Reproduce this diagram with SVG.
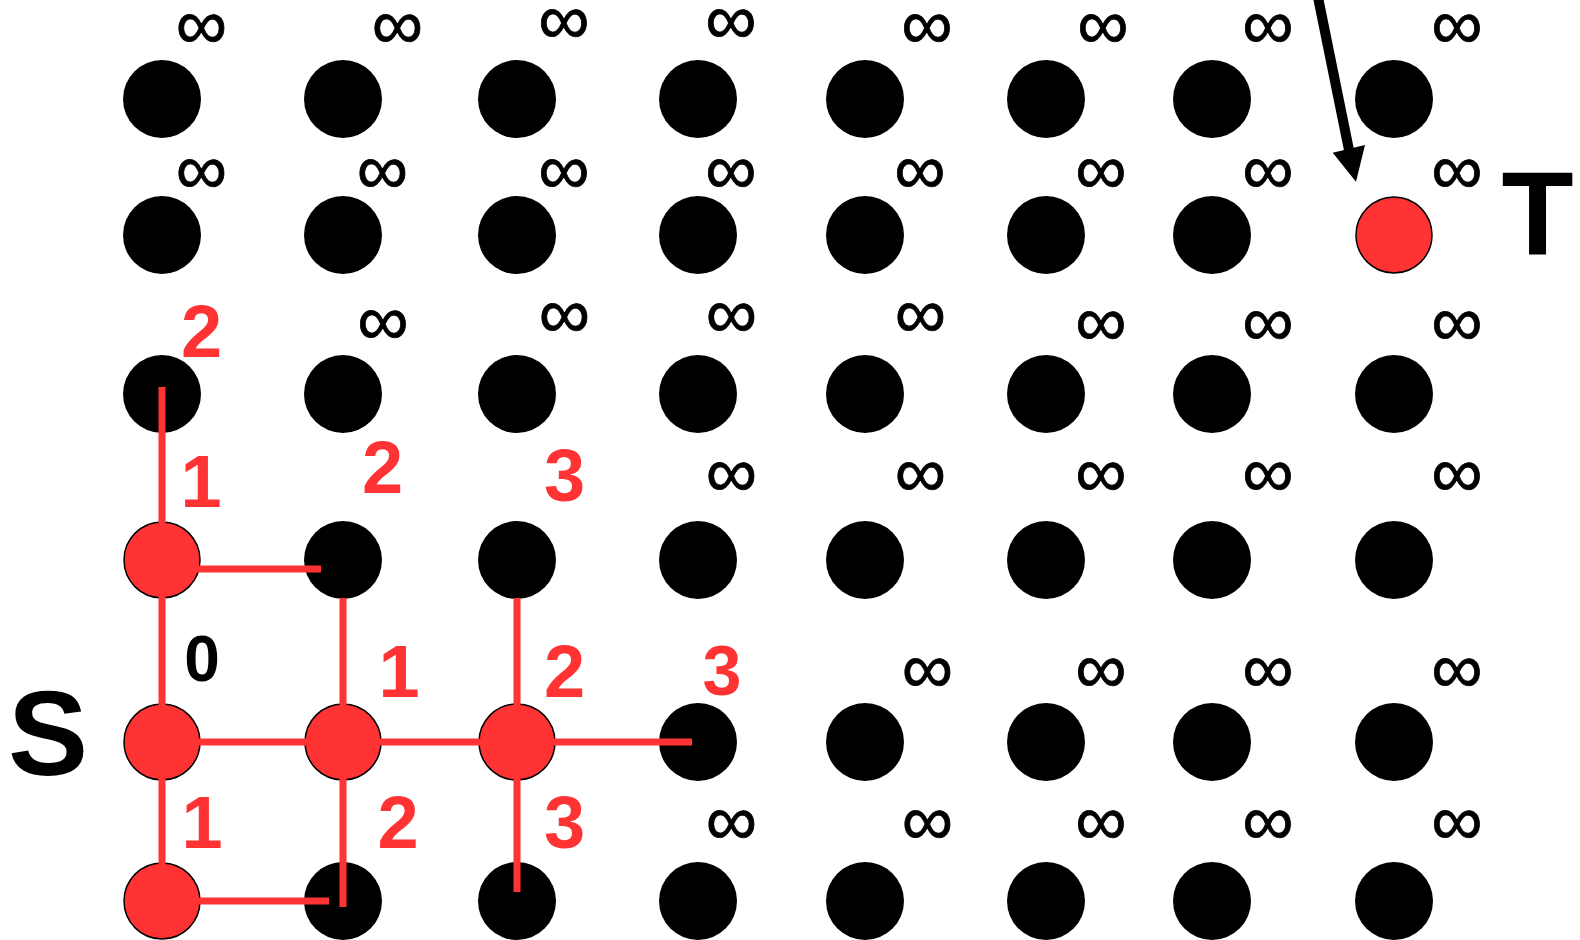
<svg xmlns="http://www.w3.org/2000/svg" width="1580" height="940" viewBox="0 0 1580 940">
<style>
.n{fill:#000}
.r{fill:#ff3333;stroke:#000;stroke-width:1.5}
.inf{font-family:"Liberation Sans",Arial,sans-serif;font-weight:normal;font-size:72px;fill:#000;text-anchor:middle;stroke:#000;stroke-width:0.8}
.d{font-family:"Liberation Sans",Arial,sans-serif;font-weight:bold;font-size:74px;fill:#ff3333;text-anchor:middle}
.k{font-family:"Liberation Sans",Arial,sans-serif;font-weight:bold;fill:#000;text-anchor:middle}
.e{stroke:#ff3333;stroke-width:7;fill:none}
</style>
<rect width="1580" height="940" fill="#fff"/>
<g id="nodes">
<g id="r1">
<circle class="n" cx="162" cy="99" r="39"/><circle class="n" cx="343" cy="99" r="39"/><circle class="n" cx="517" cy="99" r="39"/><circle class="n" cx="698" cy="99" r="39"/><circle class="n" cx="865" cy="99" r="39"/><circle class="n" cx="1046" cy="99" r="39"/><circle class="n" cx="1212" cy="99" r="39"/><circle class="n" cx="1394" cy="99" r="39"/>
</g>
<g id="r2">
<circle class="n" cx="162" cy="235" r="39"/><circle class="n" cx="343" cy="235" r="39"/><circle class="n" cx="517" cy="235" r="39"/><circle class="n" cx="698" cy="235" r="39"/><circle class="n" cx="865" cy="235" r="39"/><circle class="n" cx="1046" cy="235" r="39"/><circle class="n" cx="1212" cy="235" r="39"/>
</g>
<g id="target"><circle class="r" cx="1394" cy="235" r="38"/></g>
<g id="r3">
<circle class="n" cx="162" cy="394" r="39"/><circle class="n" cx="343" cy="394" r="39"/><circle class="n" cx="517" cy="394" r="39"/><circle class="n" cx="698" cy="394" r="39"/><circle class="n" cx="865" cy="394" r="39"/><circle class="n" cx="1046" cy="394" r="39"/><circle class="n" cx="1212" cy="394" r="39"/><circle class="n" cx="1394" cy="394" r="39"/>
</g>
<g id="r4">
<circle class="r" cx="162" cy="560" r="38"/><circle class="n" cx="343" cy="560" r="39"/><circle class="n" cx="517" cy="560" r="39"/><circle class="n" cx="698" cy="560" r="39"/><circle class="n" cx="865" cy="560" r="39"/><circle class="n" cx="1046" cy="560" r="39"/><circle class="n" cx="1212" cy="560" r="39"/><circle class="n" cx="1394" cy="560" r="39"/>
</g>
<g id="r5">
<circle class="r" cx="162" cy="742" r="38"/><circle class="r" cx="343" cy="742" r="38"/><circle class="r" cx="517" cy="742" r="38"/><circle class="n" cx="698" cy="742" r="39"/><circle class="n" cx="865" cy="742" r="39"/><circle class="n" cx="1046" cy="742" r="39"/><circle class="n" cx="1212" cy="742" r="39"/><circle class="n" cx="1394" cy="742" r="39"/>
</g>
<g id="r6">
<circle class="r" cx="162" cy="901" r="38"/><circle class="n" cx="343" cy="901" r="39"/><circle class="n" cx="517" cy="901" r="39"/><circle class="n" cx="698" cy="901" r="39"/><circle class="n" cx="865" cy="901" r="39"/><circle class="n" cx="1046" cy="901" r="39"/><circle class="n" cx="1212" cy="901" r="39"/><circle class="n" cx="1394" cy="901" r="39"/>
</g>
</g>
<g id="connectors">
<line class="e" x1="162" y1="387" x2="162" y2="901"/>
<line class="e" x1="162" y1="569" x2="321" y2="569"/>
<line class="e" x1="343" y1="598" x2="343" y2="907"/>
<line class="e" x1="162" y1="742" x2="692" y2="742"/>
<line class="e" x1="517" y1="598" x2="517" y2="892"/>
<line class="e" x1="162" y1="901" x2="329" y2="901"/>
<g id="arrow">
<line x1="1315.5" y1="-15" x2="1349" y2="150" stroke="#000" stroke-width="10"/>
<polygon points="1332.7,152.7 1365,145 1356,181.7" fill="#000"/>
</g>
</g>
<g id="labels">
<g class="inf">
<text x="201.5" y="49">∞</text><text x="397.5" y="49">∞</text><text x="564" y="43.5">∞</text><text x="731" y="43.5">∞</text><text x="927" y="49">∞</text><text x="1103" y="49">∞</text><text x="1268" y="49">∞</text><text x="1457" y="49">∞</text>
<text x="201.5" y="193.5">∞</text><text x="382.5" y="193.5">∞</text><text x="564" y="193.5">∞</text><text x="731" y="193.5">∞</text><text x="920" y="193.5">∞</text><text x="1101" y="193.5">∞</text><text x="1268" y="193.5">∞</text><text x="1457" y="193.5">∞</text>
<text x="383" y="344.5">∞</text><text x="564.5" y="337.5">∞</text><text x="731.5" y="337.5">∞</text><text x="920.5" y="337.5">∞</text><text x="1101" y="345.5">∞</text><text x="1268" y="345.5">∞</text><text x="1457" y="345.5">∞</text>
<text x="731.5" y="497">∞</text><text x="920.5" y="497">∞</text><text x="1101" y="497">∞</text><text x="1268" y="497">∞</text><text x="1457" y="497">∞</text>
<text x="927.5" y="693">∞</text><text x="1101" y="693">∞</text><text x="1268" y="693">∞</text><text x="1457" y="693">∞</text>
<text x="731.5" y="844.5">∞</text><text x="927.5" y="844.5">∞</text><text x="1101" y="844.5">∞</text><text x="1268" y="844.5">∞</text><text x="1457" y="844.5">∞</text>
</g>
<g class="d">
<text x="201.5" y="357">2</text>
<text x="201" y="507">1</text><text x="382.5" y="493">2</text><text x="564.5" y="501">3</text>
<text x="399" y="697">1</text><text x="564.5" y="697">2</text><text x="722" y="695" font-size="70">3</text>
<text x="202" y="848">1</text><text x="398" y="848">2</text><text x="564.5" y="848">3</text>
</g>
<text class="k" x="202" y="681" font-size="64">0</text>
<text class="k" x="48" y="775" font-size="120">S</text>
<text class="k" x="1537.5" y="255" font-size="118">T</text>
</g>
</svg>
